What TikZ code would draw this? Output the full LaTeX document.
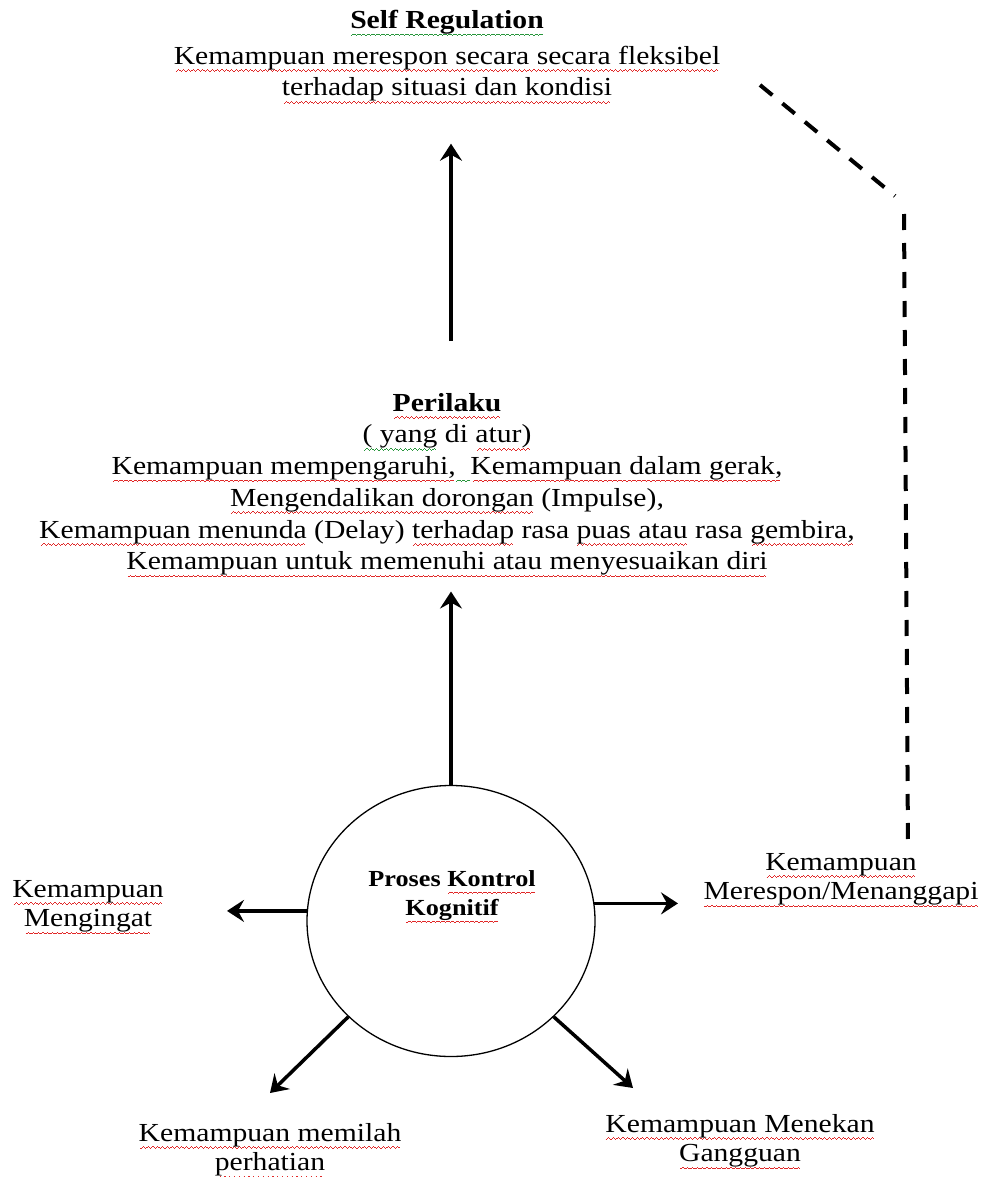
\documentclass[tikz,border=0pt]{standalone}
\usepackage{fontspec}
\setmainfont[FakeStretch=1.14]{Liberation Serif}
\usetikzlibrary{arrows.meta,shapes.geometric}
\definecolor{wavered}{RGB}{225,40,40}
\definecolor{wavegreen}{RGB}{40,150,60}
\newsavebox\wordbox
\newcommand\wavepiece{\rule[-7.6pt]{1.2pt}{1pt}\rule[-6.8pt]{1.2pt}{1pt}\rule[-6pt]{1.2pt}{1pt}\rule[-6.8pt]{1.2pt}{1pt}}
\newcommand\wavemark[2]{\setbox\wordbox\hbox{#2}\leavevmode\rlap{\textcolor{#1}{\cleaders\hbox{\wavepiece}\hskip\wd\wordbox}}\box\wordbox}
\newcommand\rw[1]{\wavemark{wavered}{#1}}
\newcommand\gw[1]{\wavemark{wavegreen}{#1}}
\begin{document}
\begin{tikzpicture}[x=1pt,y=-1pt,
  txt/.style={align=center, inner sep=0pt, font=\fontsize{26}{31.7}\selectfont},
  sidetxt/.style={align=center, inner sep=0pt, font=\fontsize{26}{29.5}\selectfont},
  arr/.style={line width=3.5pt, -{Stealth[length=17pt,width=22pt,inset=6pt]}},
  dashline/.style={line width=4pt, dash pattern=on 16pt off 13pt}]
\useasboundingbox (0,0) rectangle (985,1177);

\node[txt, anchor=north] (selfreg) at (447,10)
  {\gw{\textbf{Self Regulation}}\\[4pt]
   \rw{Kemampuan merespon secara secara fleksibel}\\
   \rw{terhadap situasi dan kondisi}};

\node[txt, anchor=north] (perilaku) at (447,393)
  {\rw{\textbf{Perilaku}}\\
   \gw{( yang} di \rw{atur)}\\
   \rw{Kemampuan mempengaruhi,}\gw{\ \ }\rw{Kemampuan dalam gerak,}\\
   \rw{Mengendalikan dorongan} (Impulse),\\
   \rw{Kemampuan menunda} (Delay) \rw{terhadap} rasa \rw{puas atau} rasa \rw{gembira,}\\
   \rw{Kemampuan untuk memenuhi atau menyesuaikan diri}};

\node[ellipse, draw, line width=1.3pt, minimum width=288pt, minimum height=271pt, inner sep=0pt] (proc) at (451,921) {};
\node[align=center, inner sep=0pt, font=\fontsize{23}{29}\selectfont\bfseries] (proctext) at (452,897)
  {Proses \rw{Kontrol}\\\rw{Kognitif}};

\node[sidetxt, anchor=north] (mengingat) at (88,880) {\rw{Kemampuan}\\\rw{Mengingat}};
\node[sidetxt, anchor=north] (merespon) at (841,853) {\rw{Kemampuan}\\\rw{Merespon/Menanggapi}};
\node[sidetxt, anchor=north] (memilah) at (270,1123) {\rw{Kemampuan memilah}\\\rw{perhatian}};
\node[sidetxt, anchor=north] (menekan) at (740,1114) {\rw{Kemampuan Menekan}\\\rw{Gangguan}};

\draw[arr] (proc.north) -- ([yshift=-14pt]proc.north |- perilaku.south);
\draw[arr] ([yshift=52pt]proc.north |- perilaku.north) -- ([yshift=-40pt]proc.north |- selfreg.south);
\draw[arr] (proc.176) -- ([xshift=-224pt]proc.176 -| proc.center);
\draw[arr] (proc.7) -- ([xshift=227pt]proc.7 -| proc.center);
\draw[arr] (proc.223) -- ([yshift=30pt]memilah.north);
\draw[arr] (proc.317) -- ([xshift=-107pt,yshift=26pt]menekan.north);

\coordinate (d1) at (760,85);
\coordinate (d2) at (895,196);
\coordinate (d3) at (904,214);
\coordinate (d4) at (908,848);
\draw[dashline] (d1) -- (d2);
\draw[dashline] (d3) -- (d4);
\end{tikzpicture}
\end{document}
